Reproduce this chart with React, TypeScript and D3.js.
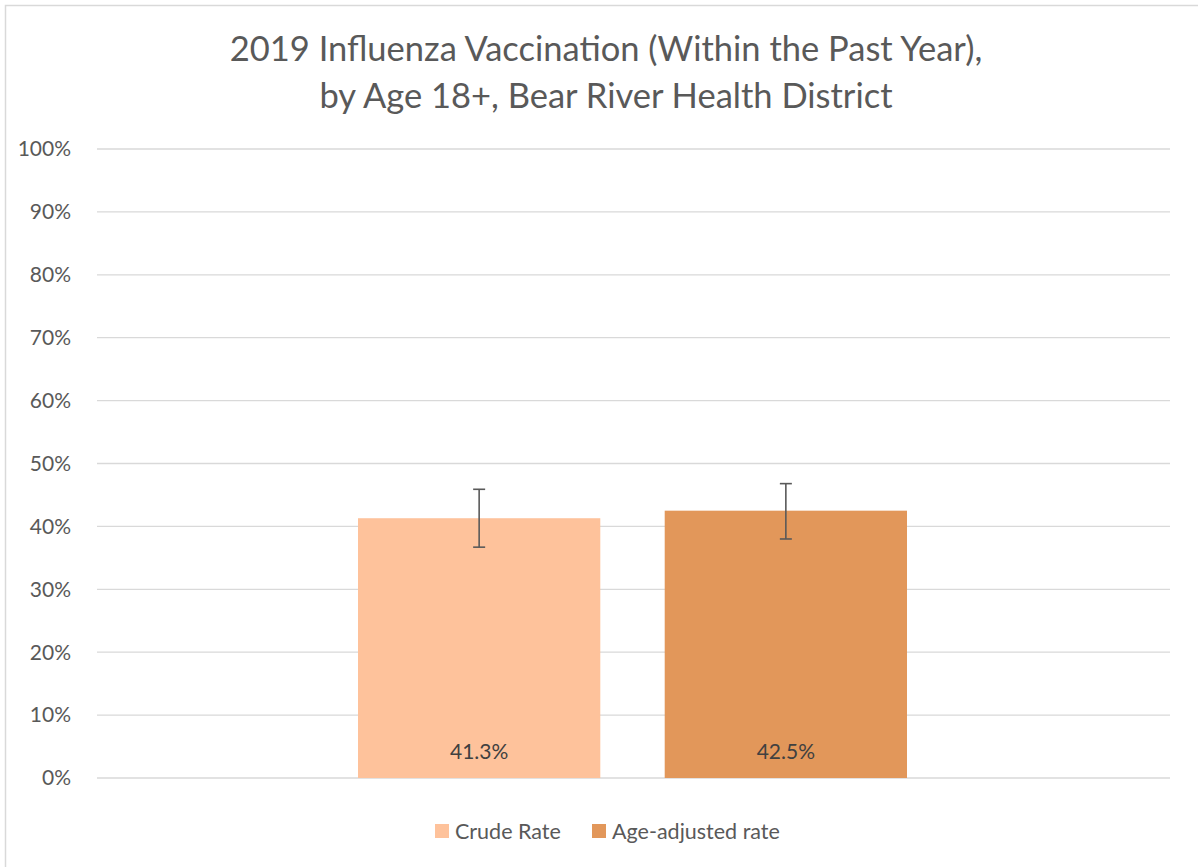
import React, { useEffect, useRef } from 'react';
import * as d3 from 'd3';

// chart data
const seriesNames = ['Crude Rate', 'Age-adjusted rate'];
const rates = [41.3, 42.5];
const errLow = [36.7, 38.0];
const errHigh = [45.9, 46.8];
const barColors = ['#FEC29B', '#E2975A'];
const yTicks = [0, 10, 20, 30, 40, 50, 60, 70, 80, 90, 100];
const titleLines = ['2019 Influenza Vaccination (Within the Past Year),', 'by Age 18+, Bear River Health District'];

const W = 1198;
const H = 867;
const FONT = 'Lato, "Open Sans", sans-serif';

function App() {
  const svgRef = useRef<SVGSVGElement>(null);

  useEffect(() => {
    const svg = d3.select(svgRef.current);
    svg.selectAll('*').remove();

    // outer chart border (cropped on right/bottom)
    svg.append('rect')
      .attr('x', 5.5).attr('y', 5.5)
      .attr('width', W + 10).attr('height', H + 10)
      .attr('fill', 'white')
      .attr('stroke', '#d9d9d9')
      .attr('stroke-width', 1.5);

    const plotLeft = 97, plotRight = 1170, plotTop = 149, plotBottom = 778;

    const y = d3.scaleLinear().domain([0, 100]).range([plotBottom, plotTop]);
    const x = d3.scaleBand<string>()
      .domain(seriesNames)
      .range([358, 907])
      .paddingInner(0.21);

    // title
    svg.append('g').selectAll('text')
      .data(titleLines)
      .join('text')
      .attr('x', 606)
      .attr('y', (d, i) => 61 + i * 47)
      .attr('text-anchor', 'middle')
      .attr('font-family', FONT)
      .attr('font-size', 34.5)
      .attr('fill', '#595959')
      .text(d => d);

    // gridlines
    svg.append('g').selectAll('line')
      .data(yTicks)
      .join('line')
      .attr('x1', plotLeft).attr('x2', plotRight)
      .attr('y1', d => y(d)).attr('y2', d => y(d))
      .attr('stroke', '#d9d9d9')
      .attr('stroke-width', 1.3);

    // y-axis labels
    svg.append('g').selectAll('text')
      .data(yTicks)
      .join('text')
      .attr('x', 71)
      .attr('y', d => y(d))
      .attr('dy', '0.35em')
      .attr('text-anchor', 'end')
      .attr('font-family', FONT)
      .attr('font-size', 21)
      .attr('fill', '#595959')
      .text(d => `${d}%`);

    // bars
    svg.append('g').selectAll('rect')
      .data(seriesNames)
      .join('rect')
      .attr('x', d => x(d)!)
      .attr('y', (d, i) => y(rates[i]))
      .attr('width', x.bandwidth())
      .attr('height', (d, i) => y(0) - y(rates[i]))
      .attr('fill', (d, i) => barColors[i]);

    // error bars
    const eg = svg.append('g').attr('stroke', '#595959').attr('stroke-width', 1.6);
    seriesNames.forEach((s, i) => {
      const cx = x(s)! + x.bandwidth() / 2;
      eg.append('line').attr('x1', cx).attr('x2', cx).attr('y1', y(errLow[i])).attr('y2', y(errHigh[i]));
      [errLow[i], errHigh[i]].forEach(v => {
        eg.append('line').attr('x1', cx - 6).attr('x2', cx + 6).attr('y1', y(v)).attr('y2', y(v));
      });
    });

    // data labels
    svg.append('g').selectAll('text')
      .data(seriesNames)
      .join('text')
      .attr('x', d => x(d)! + x.bandwidth() / 2)
      .attr('y', y(0) - 19)
      .attr('text-anchor', 'middle')
      .attr('font-family', FONT)
      .attr('font-size', 21)
      .attr('fill', '#404040')
      .text((d, i) => `${rates[i].toFixed(1)}%`);

    // legend
    const legendX = [435, 592];
    const lg = svg.append('g');
    seriesNames.forEach((s, i) => {
      lg.append('rect')
        .attr('x', legendX[i]).attr('y', 824)
        .attr('width', 14).attr('height', 14)
        .attr('fill', barColors[i]);
      lg.append('text')
        .attr('x', legendX[i] + 20).attr('y', 831)
        .attr('dy', '0.35em')
        .attr('font-family', FONT)
        .attr('font-size', 21.5)
        .attr('fill', '#595959')
        .text(s);
    });
  }, []);

  return (
    <svg ref={svgRef} width={W} height={H} style={{ position: 'absolute', left: 0, top: 0 }} />
  );
}

export default App;
